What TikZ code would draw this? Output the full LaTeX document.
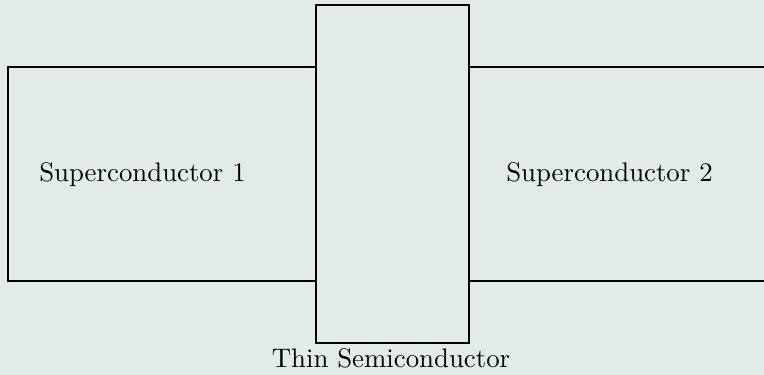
\documentclass[tikz,border=0pt]{standalone}
\definecolor{bgc}{RGB}{227,235,232}
\begin{document}
\begin{tikzpicture}[x=0.373pt,y=-0.373pt,
  box/.style={draw=black,line width=0.4pt},
  lbl/.style={inner sep=0pt,anchor=base,text=black}]
\fill[bgc] (0,0) rectangle (764,375);
\useasboundingbox (0,0) rectangle (764,375);
\draw[box] (8,67) rectangle (316,281);
\draw[box] (764,67) -- (469,67) -- (469,281) -- (764,281);
\draw[box] (316,5) rectangle (469,343);
\node[lbl] (s1) at (142.5,182) {Superconductor 1};
\node[lbl] (s2) at (609.5,182) {Superconductor 2};
\node[lbl] (sc) at (391,368) {Thin Semiconductor};
\end{tikzpicture}
\end{document}
